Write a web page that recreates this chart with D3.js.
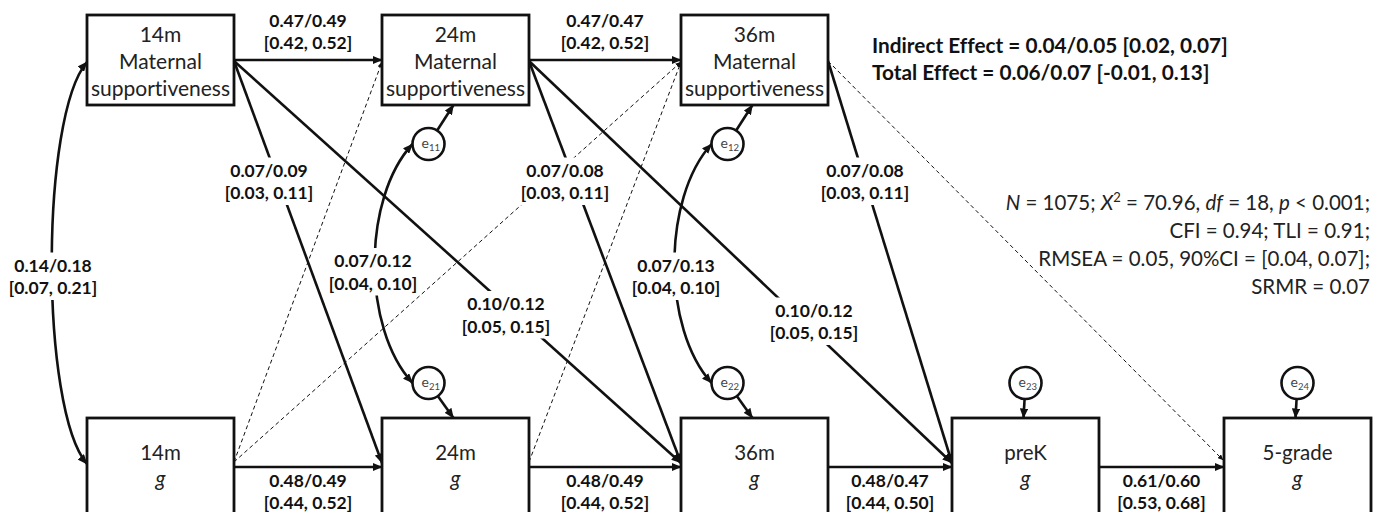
<!DOCTYPE html>
<html>
<head>
<meta charset="utf-8">
<script src="https://cdn.jsdelivr.net/npm/d3@7/dist/d3.min.js"></script>
<style>
  html, body { margin: 0; padding: 0; background: #fff; }
  svg { display: block; font-family: Lato, "DejaVu Sans", sans-serif; font-variant-ligatures: none; }
</style>
</head>
<body>
<svg id="chart" width="1380" height="512"></svg>
<script>
// ---- Measurement waves -------------------------------------------------
const msWaves = ["14m", "24m", "36m"];                    // maternal supportiveness
const gWaves  = ["14m", "24m", "36m", "preK", "5-grade"]; // general cognitive ability

// ---- Stability paths (standardized estimates / 95% CI) -----------------
const msStability = [
  { from: "14m", to: "24m", est: "0.47/0.49", ci: "[0.42, 0.52]" },
  { from: "24m", to: "36m", est: "0.47/0.47", ci: "[0.42, 0.52]" }
];
const gStability = [
  { from: "14m",  to: "24m",     est: "0.48/0.49", ci: "[0.44, 0.52]" },
  { from: "24m",  to: "36m",     est: "0.48/0.49", ci: "[0.44, 0.52]" },
  { from: "36m",  to: "preK",    est: "0.48/0.47", ci: "[0.44, 0.50]" },
  { from: "preK", to: "5-grade", est: "0.61/0.60", ci: "[0.53, 0.68]" }
];

// ---- Cross-lagged paths: supportiveness -> g ----------------------------
const msToG = [
  { from: "14m", to: "24m",  est: "0.07/0.09", ci: "[0.03, 0.11]" },
  { from: "14m", to: "36m",  est: "0.10/0.12", ci: "[0.05, 0.15]" },
  { from: "24m", to: "36m",  est: "0.07/0.08", ci: "[0.03, 0.11]" },
  { from: "24m", to: "preK", est: "0.10/0.12", ci: "[0.05, 0.15]" },
  { from: "36m", to: "preK", est: "0.07/0.08", ci: "[0.03, 0.11]" }
];

// ---- Non-significant paths (dashed) -------------------------------------
const gToMsNS = [
  { from: "14m", to: "24m" },
  { from: "14m", to: "36m" },
  { from: "24m", to: "36m" }
];
const msToGradeNS = [ { from: "36m", to: "5-grade" } ];

// ---- Residuals and covariances ------------------------------------------
const residuals = [
  { id: "e11", row: "ms", wave: "24m" },
  { id: "e12", row: "ms", wave: "36m" },
  { id: "e21", row: "g",  wave: "24m" },
  { id: "e22", row: "g",  wave: "36m" },
  { id: "e23", row: "g",  wave: "preK" },
  { id: "e24", row: "g",  wave: "5-grade" }
];
const covariances = [
  { a: "ms14", b: "g14", est: "0.14/0.18", ci: "[0.07, 0.21]" },
  { a: "e11",  b: "e21", est: "0.07/0.12", ci: "[0.04, 0.10]" },
  { a: "e12",  b: "e22", est: "0.07/0.13", ci: "[0.04, 0.10]" }
];

// ---- Summary text --------------------------------------------------------
const effectLines = [
  "Indirect Effect = 0.04/0.05 [0.02, 0.07]",
  "Total Effect = 0.06/0.07 [-0.01, 0.13]"
];
// each fit line is a list of [text, style] runs
const fitLines = [
  [["N", "i"], [" = 1075; ", ""], ["X", "i"], ["2", "sup"], [" = 70.96, ", ""], ["df", "i"], [" = 18, ", ""], ["p", "i"], [" < 0.001;", ""]],
  [["CFI = 0.94; TLI = 0.91;", ""]],
  [["RMSEA = 0.05, 90%CI = [0.04, 0.07];", ""]],
  [["SRMR = 0.07", ""]]
];

// =========================================================================
// Layout
// =========================================================================
const ink = "#111";
const boxW = 147;
const msTop = 15, msH = 90;
const gTop = 418, gH = 98;
const msMidY = msTop + msH / 2;       // 60
const gMidY = gTop + gH / 2 - 2;      // 465
const xMS = d3.scaleOrdinal().domain(msWaves).range([87, 382, 681]);
const xG  = d3.scaleOrdinal().domain(gWaves).range([87, 382, 681, 952, 1224]);
const eR = 16;

// label anchors (centre x, first baseline y) for sloped and curved paths
const msToGLabelAt = [[269, 176.5], [506, 310], [565, 176.5], [814, 316.5], [865, 176.5]];
const covLabelAt = [[53, 271.5], [373, 267], [676, 271.5]];
const covBulge = [40, 362, 662];

const svg = d3.select("#chart");
const defs = svg.append("defs");

function marker(id, len, half) {
  defs.append("marker")
    .attr("id", id)
    .attr("markerUnits", "userSpaceOnUse")
    .attr("viewBox", `0 ${-half} ${len} ${2 * half}`)
    .attr("refX", len - 0.5).attr("refY", 0)
    .attr("markerWidth", len).attr("markerHeight", 2 * half)
    .attr("orient", "auto-start-reverse")
    .append("path")
    .attr("d", `M0,${-half}L${len},0L0,${half}Z`)
    .attr("fill", ink);
}
marker("arr", 10, 4.2);
marker("arrS", 6, 2.6);

const gLines = svg.append("g");
const gLabels = svg.append("g");
const gNodes = svg.append("g");

// residual positions
const residualPos = {};
residuals.forEach(r => {
  const left = r.row === "ms" ? xMS(r.wave) : xG(r.wave);
  const cx = left + boxW / 2 - ((r.wave === "24m" || r.wave === "36m") ? 27 : 0);
  const cy = r.row === "ms" ? 144 : 383;
  residualPos[r.id] = { cx, cy, tx: left + boxW / 2 - 2, ty: r.row === "ms" ? msTop + msH : gTop };
});

// ---- straight paths ---------------------------------------------------------
function straight(x1, y1, x2, y2, dashed) {
  gLines.append("line")
    .attr("x1", x1).attr("y1", y1).attr("x2", x2).attr("y2", y2)
    .attr("stroke", ink)
    .attr("stroke-width", dashed ? 1 : 2.6)
    .attr("stroke-dasharray", dashed ? "4,3" : null)
    .attr("marker-end", dashed ? "url(#arrS)" : "url(#arr)");
}

msStability.forEach(p => straight(xMS(p.from) + boxW, msMidY, xMS(p.to), msMidY, false));
gStability.forEach(p => straight(xG(p.from) + boxW, gMidY + 2, xG(p.to), gMidY + 2, false));
msToG.forEach(p => straight(xMS(p.from) + boxW, msMidY + 1, xG(p.to), gMidY - 2, false));
gToMsNS.forEach(p => straight(xG(p.from) + boxW, gMidY - 3, xMS(p.to), msMidY + 2, true));
msToGradeNS.forEach(p => straight(xMS(p.from) + boxW, msMidY + 1, xG(p.to) - 1, gMidY - 5, true));

// residual -> indicator arrows
residuals.forEach(r => {
  const p = residualPos[r.id];
  const dx = p.tx - p.cx, dy = p.ty - p.cy, L = Math.hypot(dx, dy);
  straight(p.cx + eR * dx / L, p.cy + eR * dy / L, p.tx, p.ty, false);
});

// ---- covariance arcs --------------------------------------------------------
covariances.forEach((c, i) => {
  let a, b;
  if (c.a === "ms14") {
    a = [xMS("14m"), msMidY + 2];
    b = [xG("14m"), gMidY - 1];
  } else {
    const pa = residualPos[c.a], pb = residualPos[c.b];
    a = [pa.cx - eR, pa.cy];
    b = [pb.cx - eR, pb.cy];
  }
  const cxp = covBulge[i];
  const path = d3.path();
  path.moveTo(a[0], a[1]);
  path.bezierCurveTo(cxp, a[1] + 55, cxp, b[1] - 55, b[0], b[1]);
  gLines.append("path")
    .attr("d", path.toString())
    .attr("fill", "none").attr("stroke", ink).attr("stroke-width", 2.6)
    .attr("marker-start", "url(#arr)").attr("marker-end", "url(#arr)");
});

// ---- labels ----------------------------------------------------------------
function label(cx, y, est, ci, knockout) {
  const g = gLabels.append("g");
  const t = g.append("text")
    .attr("text-anchor", "middle")
    .attr("font-weight", 700).attr("font-size", 17.5)
    .attr("fill", ink);
  t.append("tspan").attr("x", cx).attr("y", y).text(est);
  t.append("tspan").attr("x", cx).attr("y", y + 22.5).text(ci);
  if (knockout) {
    const bb = t.node().getBBox();
    g.insert("rect", "text")
      .attr("x", bb.x - 2).attr("y", bb.y - 2)
      .attr("width", bb.width + 4).attr("height", bb.height + 4)
      .attr("fill", "#fff");
  }
}

msStability.forEach(p => label((xMS(p.from) + boxW + xMS(p.to)) / 2, 26.5, p.est, p.ci, false));
gStability.forEach(p => label((xG(p.from) + boxW + xG(p.to)) / 2, 486.5, p.est, p.ci, false));
msToG.forEach((p, i) => label(msToGLabelAt[i][0], msToGLabelAt[i][1], p.est, p.ci, true));
covariances.forEach((c, i) => label(covLabelAt[i][0], covLabelAt[i][1], c.est, c.ci, true));

// ---- boxes -------------------------------------------------------------------
msWaves.forEach(w => {
  const x = xMS(w);
  gNodes.append("rect")
    .attr("x", x).attr("y", msTop).attr("width", boxW).attr("height", msH)
    .attr("fill", "#fff").attr("stroke", ink).attr("stroke-width", 2.8);
  const t = gNodes.append("text").attr("text-anchor", "middle")
    .attr("font-size", 21).attr("fill", "#222");
  [w, "Maternal", "supportiveness"].forEach((s, k) =>
    t.append("tspan").attr("x", x + boxW / 2).attr("y", 41.5 + k * 27).text(s));
});

gWaves.forEach(w => {
  const x = xG(w);
  gNodes.append("rect")
    .attr("x", x).attr("y", gTop).attr("width", boxW).attr("height", gH)
    .attr("fill", "#fff").attr("stroke", ink).attr("stroke-width", 2.8);
  const t = gNodes.append("text").attr("text-anchor", "middle")
    .attr("font-size", 20.5).attr("fill", "#222");
  t.append("tspan").attr("x", x + boxW / 2).attr("y", 460).text(w);
  t.append("tspan").attr("x", x + boxW / 2).attr("y", 485.5).attr("font-style", "italic").text("g");
});

// ---- residual circles -------------------------------------------------------
residuals.forEach(r => {
  const p = residualPos[r.id];
  gNodes.append("circle")
    .attr("cx", p.cx).attr("cy", p.cy).attr("r", eR)
    .attr("fill", "#fff").attr("stroke", ink).attr("stroke-width", 2.6);
  const t = gNodes.append("text").attr("x", p.cx - 7).attr("y", p.cy + 4)
    .attr("font-size", 14).attr("fill", "#444");
  t.append("tspan").text("e");
  t.append("tspan").attr("dy", 3).attr("font-size", 9.5).text(r.id.slice(1));
});

// ---- summary text -----------------------------------------------------------
effectLines.forEach((s, k) => {
  svg.append("text")
    .attr("x", 872).attr("y", 53 + k * 27)
    .attr("font-size", 20.8).attr("font-weight", 700).attr("fill", ink)
    .text(s);
});

fitLines.forEach((runs, k) => {
  const t = svg.append("text")
    .attr("x", 1370).attr("y", 210 + k * 28)
    .attr("text-anchor", "end")
    .attr("font-size", 20.5).attr("fill", "#222");
  let shifted = false;
  runs.forEach(([s, style]) => {
    const ts = t.append("tspan").text(s);
    if (style === "i") ts.attr("font-style", "italic");
    if (style === "sup") { ts.attr("font-size", 13).attr("dy", -8); shifted = true; }
    else if (shifted) { ts.attr("dy", 8); shifted = false; }
  });
});
</script>
</body>
</html>
